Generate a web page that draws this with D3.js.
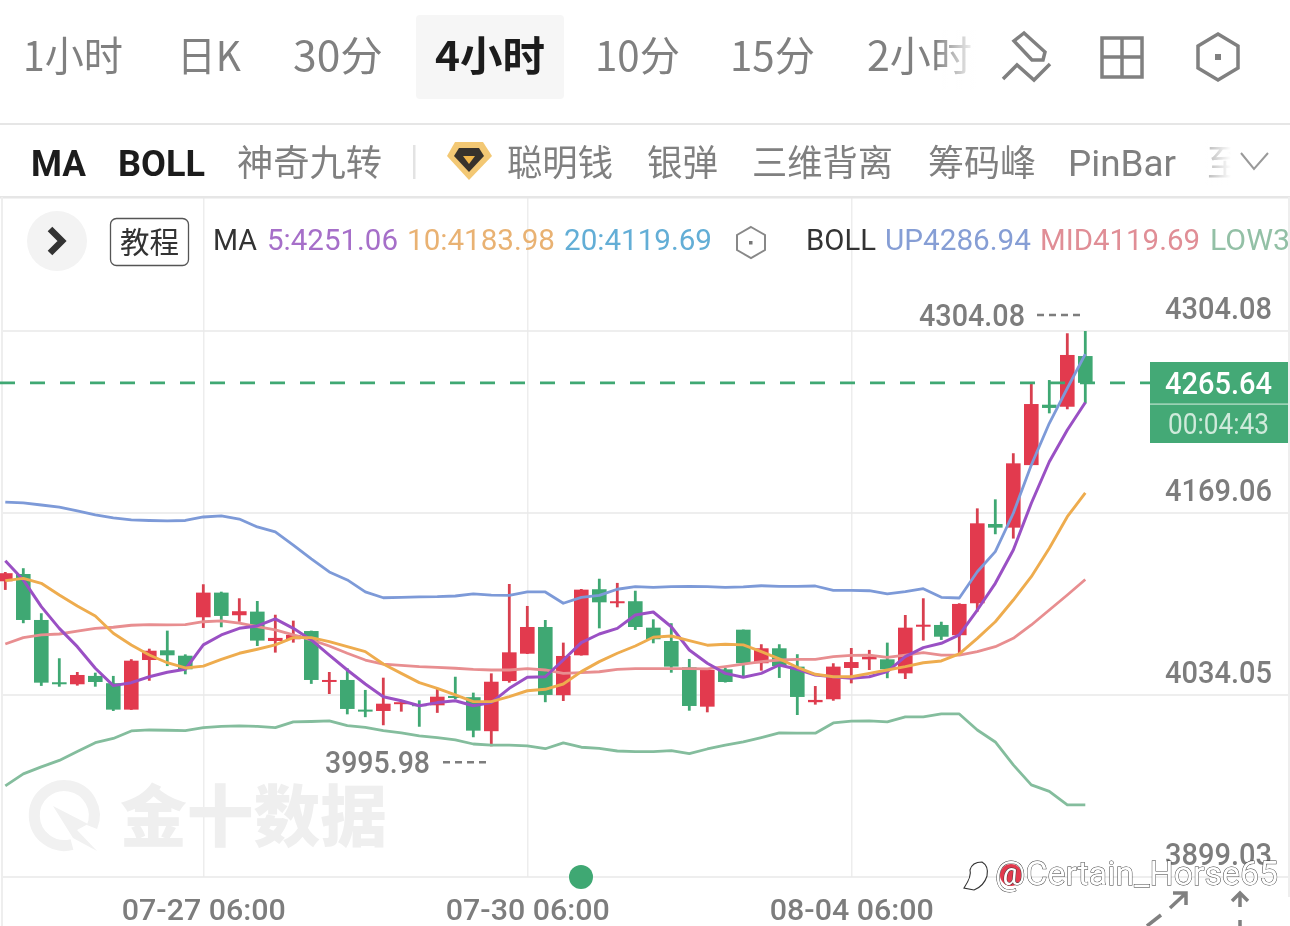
<!DOCTYPE html>
<html><head><meta charset="utf-8">
<script src="https://cdnjs.cloudflare.com/ajax/libs/d3/7.8.5/d3.min.js"></script>
<style>html,body{margin:0;padding:0;background:#fff;overflow:hidden}svg{display:block;filter:blur(.45px)}</style>
</head><body><svg id="c" width="1290" height="926"></svg>
<script>
// ---------- data ----------
const opens  = [4118.4,4123.8,4089.7,4043.5,4042.0,4048.2,4042.8,4023.2,4060.0,4067.2,4063.2,4091.7,4110.0,4093.2,4095.9,4074.1,4075.4,4081.5,4044.4,4045.2,4023.2,4022.2,4027.9,4027.2,4026.4,4033.3,4032.4,4007.2,4044.4,4064.7,4084.5,4033.9,4063.5,4112.5,4102.8,4103.6,4084.0,4074.1,4054.6,4025.4,4053.1,4082.5,4057.6,4068.7,4055.1,4028.7,4030.9,4054.1,4060.5,4060.5,4050.1,4084.7,4086.0,4078.4,4102.1,4160.9,4158.2,4204.6,4249.4,4247.9,4285.5];
const closes = [4124.4,4089.7,4043.2,4042.0,4048.9,4043.7,4023.2,4059.5,4066.9,4063.5,4053.1,4110.0,4092.7,4096.2,4074.4,4076.4,4078.6,4045.2,4045.2,4023.7,4022.2,4027.6,4028.7,4026.1,4032.8,4032.8,4007.6,4043.9,4065.7,4084.5,4034.1,4063.0,4112.2,4102.8,4103.6,4084.5,4075.4,4055.1,4025.9,4052.6,4043.7,4057.6,4068.7,4055.5,4032.6,4030.4,4055.1,4058.5,4062.5,4053.1,4084.0,4086.2,4077.3,4101.6,4161.4,4158.2,4205.9,4249.9,4247.0,4286.3,4265.64];
const highs  = [4125.3,4128.1,4094.7,4061.3,4051.1,4050.6,4048.2,4060.6,4068.4,4081.8,4064.2,4116.2,4110.7,4105.8,4103.8,4093.6,4089.2,4081.8,4051.1,4053.9,4037.8,4046.9,4028.7,4030.1,4038.8,4047.6,4035.8,4050.1,4116.4,4100.1,4089.7,4072.9,4112.7,4120.3,4117.2,4111.4,4090.2,4087.3,4060.8,4053.9,4054.1,4082.6,4071.7,4071.7,4064.3,4040.7,4057.6,4068.9,4067.5,4072.9,4093.4,4105.8,4088.4,4102.1,4172.5,4179.2,4213.4,4264.8,4267.7,4302.4,4304.08];
const lows   = [4112.0,4087.3,4040.8,4040.2,4041.0,4040.2,4022.2,4023.0,4044.6,4055.5,4049.4,4083.8,4084.3,4088.4,4070.4,4065.5,4072.9,4042.3,4034.8,4019.7,4017.6,4011.6,4021.7,4010.5,4020.8,4030.9,4002.7,3995.98,4043.2,4064.5,4028.7,4029.6,4063.3,4083.5,4099.1,4082.3,4072.4,4050.6,4022.4,4021.2,4043.3,4047.6,4052.1,4046.7,4019.2,4026.9,4029.8,4042.7,4052.6,4046.5,4045.9,4074.4,4074.9,4065.0,4095.9,4153.3,4150.1,4204.4,4243.0,4246.0,4250.4];
const ma5    = [4133.7,4119.4,4099.6,4083.5,4069.9,4053.9,4041.0,4043.2,4047.6,4050.9,4053.1,4071.2,4078.6,4083.5,4085.3,4090.5,4083.5,4074.9,4063.7,4052.6,4042.2,4032.8,4029.8,4026.1,4028.4,4029.8,4026.1,4028.4,4039.0,4047.2,4047.6,4060.0,4072.9,4079.3,4083.5,4093.4,4095.6,4084.7,4067.4,4057.6,4050.1,4047.2,4050.1,4056.3,4053.1,4048.9,4047.6,4046.5,4047.6,4051.4,4062.5,4069.2,4072.4,4078.6,4097.1,4116.9,4141.6,4176.3,4207.1,4230.6,4251.06];
const ma10   = [4118.9,4120.6,4116.9,4108.2,4100.1,4092.7,4079.8,4071.2,4063.7,4058.0,4054.1,4055.5,4060.5,4065.0,4068.0,4071.2,4076.6,4076.6,4073.6,4069.9,4066.2,4057.0,4050.1,4043.2,4039.0,4034.1,4029.1,4029.1,4032.8,4037.2,4038.3,4042.2,4051.4,4058.8,4065.0,4070.4,4076.9,4077.8,4074.4,4071.0,4071.7,4071.2,4066.2,4060.8,4054.6,4049.4,4047.6,4047.6,4050.1,4052.6,4055.1,4058.0,4059.3,4064.5,4076.1,4088.4,4104.5,4121.8,4142.9,4166.3,4183.98];
const bollMid= [4071.9,4076.6,4078.6,4079.3,4081.5,4083.5,4084.3,4085.8,4086.2,4086.0,4086.2,4088.4,4089.0,4087.3,4084.7,4082.3,4078.6,4074.9,4070.4,4065.0,4060.0,4057.0,4056.1,4055.1,4054.6,4053.9,4053.1,4052.6,4052.6,4053.6,4052.6,4050.1,4050.6,4051.3,4053.1,4053.6,4053.6,4053.6,4053.6,4053.4,4055.1,4057.0,4058.8,4060.0,4060.5,4060.5,4062.5,4063.5,4063.7,4062.0,4063.7,4065.4,4063.7,4063.7,4066.2,4069.9,4076.1,4086.0,4097.1,4108.2,4119.69];
const bollUp = [4177.2,4176.5,4175.0,4173.5,4170.6,4167.6,4165.4,4163.9,4163.5,4163.2,4163.5,4166.1,4166.9,4164.6,4158.7,4155.0,4145.3,4135.0,4125.3,4119.4,4110.5,4106.2,4106.5,4106.8,4107.0,4107.5,4109.0,4108.2,4108.0,4110.5,4110.5,4102.1,4106.5,4108.0,4112.5,4114.4,4113.9,4114.4,4114.7,4114.4,4113.9,4114.2,4115.1,4114.7,4114.7,4114.9,4111.7,4111.7,4111.4,4109.0,4110.7,4112.9,4106.5,4106.0,4125.5,4140.4,4168.9,4204.7,4235.6,4261.6,4286.94];
const bollLow= [3966.6,3975.5,3980.7,3985.5,3992.2,3998.7,4001.8,4007.4,4008.1,4007.9,4007.6,4009.8,4010.7,4011.1,4010.7,4009.8,4014.1,4014.4,4014.8,4011.3,4010.1,4007.6,4005.9,4003.7,4002.4,4000.7,3997.7,3996.8,3996.8,3996.3,3994.2,3998.5,3995.3,3994.5,3992.5,3992.0,3992.0,3992.8,3990.5,3994.0,3996.8,3999.2,4002.4,4005.9,4005.7,4005.7,4013.3,4014.6,4014.8,4014.1,4017.8,4017.8,4020.0,4020.0,4008.1,3999.2,3982.2,3967.4,3962.6,3952.6,3952.6];
const priceTicks = [4304.08,4169.06,4034.05,3899.03];
const dateTicks  = [[11,"07-27 06:00"],[29,"07-30 06:00"],[47,"08-04 06:00"]];
const lastPrice = 4265.64, countdown = "00:04:43", maxPrice = 4304.08, minPrice = 3995.98;
const tabs = ["1小时","日K","30分","4小时","10分","15分","2小时"];
const tools = ["MA","BOLL","神奇九转","聪明钱","银弹","三维背离","筹码峰","PinBar"];

// ---------- scales ----------
const x = d3.scaleLinear().domain([0,60]).range([5.3,1085.3]);
const y = d3.scaleLinear().domain([3899.03,4304.08]).range([877,331]);
const RED="#e23a4e", GREEN="#3fa873", GREY="#808080", GRID="#e9e9e9";
const CJK='"Noto Sans CJK SC","Noto Sans",sans-serif', NUM='Roboto,"Noto Sans",sans-serif';
const svg = d3.select("#c");

function T(g,str,xx,yy,size,color,opt={}){
  const t=g.append("text").attr("x",xx).attr("y",yy).attr("font-size",size).attr("fill",color)
    .attr("font-family",opt.font||CJK).attr("font-weight",opt.w||400).attr("text-anchor",opt.a||"start").text(str);
  if(opt.len) t.attr("textLength",opt.len).attr("lengthAdjust","spacingAndGlyphs");
  if(opt.op) t.attr("opacity",opt.op);
  return t;
}

// ---------- header ----------
const defs=svg.append("defs");
const fade=defs.append("linearGradient").attr("id","fade");
fade.append("stop").attr("offset",0).attr("stop-color","#fff").attr("stop-opacity",0);
fade.append("stop").attr("offset",1).attr("stop-color","#fff").attr("stop-opacity",1);

const head=svg.append("g");
head.append("rect").attr("x",416).attr("y",15).attr("width",148).attr("height",84).attr("rx",4).attr("fill","#f6f6f6");
const tabX=[23,177,293,435,595,730,867], tabW=[100,64,90,110,85,85,105];
tabs.forEach((s,i)=>T(head,s,tabX[i],71,41,i==3?"#1c1c1c":GREY,{w:i==3?700:400,len:tabW[i]}));
head.append("rect").attr("x",935).attr("y",30).attr("width",42).attr("height",60).attr("fill","url(#fade)");
const ic=head.append("g").attr("fill","none").attr("stroke",GREY).attr("stroke-width",3.5);
ic.append("path").attr("d","M1024 33 L1014 41 L1032 60 L1043 60 L1045 52 Z");
ic.append("path").attr("d","M1003 79 L1017 65 L1034 80 L1050 64");
ic.append("rect").attr("x",1102).attr("y",38).attr("width",40).attr("height",39);
ic.append("path").attr("d","M1122 38 V77 M1102 57 H1142");
ic.append("path").attr("d","M1218 34 L1238 46 V68 L1218 80 L1198 68 V46 Z");
head.append("rect").attr("x",1215).attr("y",54).attr("width",6).attr("height",6).attr("fill",GREY);

head.append("rect").attr("x",0).attr("y",123).attr("width",1290).attr("height",2).attr("fill","#e6e6e6");
const toolX=[31,118,237,507,647,752,928,1068], toolW=[55,87,145,106,71,141,108,108];
tools.forEach((s,i)=>T(head,s,toolX[i],176,36,i<2?"#1c1c1c":GREY,{w:i<2?700:400,font:i<2||i==7?NUM:CJK,len:toolW[i]}));
T(head,"至",1207,176,36,"#b5b5b5");
head.append("rect").attr("x",1205).attr("y",140).attr("width",26).attr("height",46).attr("fill","url(#fade)");
head.append("rect").attr("x",1231).attr("y",140).attr("width",12).attr("height",46).attr("fill","#fff");
head.append("path").attr("d","M1241 153 L1254 169 L1268 153").attr("fill","none").attr("stroke","#9a9a9a").attr("stroke-width",2);
head.append("rect").attr("x",413).attr("y",145).attr("width",2.5).attr("height",34).attr("fill","#e3e3e3");
head.append("path").attr("d","M455 142 H483 L492 156 L469 180 L447 156 Z").attr("fill","#f3c874");
head.append("path").attr("d","M459 148 H479 L484 156 L469 172 L454 156 Z").attr("fill","#37322c");
head.append("path").attr("d","M463 156 L469 164 L475 156 Z").attr("fill","#f1b64a");
head.append("rect").attr("x",0).attr("y",196).attr("width",1290).attr("height",2.5).attr("fill","#e6e6e6");
head.append("rect").attr("x",1).attr("y",197).attr("width",2).attr("height",729).attr("fill","#eeeeee");
head.append("rect").attr("x",1288).attr("y",197).attr("width",2).attr("height",700).attr("fill","#eeeeee");

// ---------- grid ----------
const grid=svg.append("g");
grid.selectAll("line.h").data(priceTicks).join("line").attr("class","h")
  .attr("x1",3).attr("x2",1288).attr("y1",d=>y(d)).attr("y2",d=>y(d)).attr("stroke",GRID).attr("stroke-width",1.5);
grid.selectAll("line.v").data(dateTicks).join("line").attr("class","v")
  .attr("x1",d=>x(d[0])+.5).attr("x2",d=>x(d[0])+.5).attr("y1",198).attr("y2",877).attr("stroke",GRID).attr("stroke-width",1.2);

// ---------- watermark ----------
const wm=svg.append("g");
wm.append("path").attr("d","M92 827 A30 30 0 1 0 72 844.5").attr("fill","none").attr("stroke","#f1f1f1").attr("stroke-width",11);
wm.append("path").attr("d","M53 806 L88 824 L77 830 L97 851 L73 838 Z").attr("fill","#f1f1f1");
T(wm,"金十数据",120,841,67,"#efefef",{w:900,len:267});

// ---------- legend ----------
const leg=svg.append("g");
leg.append("circle").attr("cx",57).attr("cy",241).attr("r",30).attr("fill","#f3f3f3");
leg.append("path").attr("d","M50 229 L62 241 L50 253").attr("fill","none").attr("stroke","#333").attr("stroke-width",6.5);
leg.append("rect").attr("x",110.5).attr("y",218.5).attr("width",78).attr("height",47).attr("rx",6).attr("fill","#fff").attr("stroke","#555").attr("stroke-width",1.3);
T(leg,"教程",120,253,30,"#333",{len:59});
const LS=29.5;
T(leg,"MA",213,250,LS,"#333",{font:NUM,len:44});
T(leg,"5:4251.06",267,250,LS,"#a66fc9",{font:NUM,len:131});
T(leg,"10:4183.98",407,250,LS,"#e9b273",{font:NUM,len:148});
T(leg,"20:4119.69",564,250,LS,"#63aed6",{font:NUM,len:148});
leg.append("path").attr("d","M751 227 L765 235 V250 L751 258 L737 250 V235 Z").attr("fill","none").attr("stroke","#888").attr("stroke-width",2);
leg.append("rect").attr("x",749).attr("y",241).attr("width",3.5).attr("height",3.5).attr("fill","#777");
T(leg,"BOLL",806,250,LS,"#333",{font:NUM,len:70});
T(leg,"UP4286.94",885,250,LS,"#869ed5",{font:NUM,len:146});
T(leg,"MID4119.69",1040,250,LS,"#e08e96",{font:NUM,len:160});
T(leg,"LOW3",1210,250,LS,"#93c0a6",{font:NUM,len:80});

// ---------- candles ----------
const idx=d3.range(opens.length);
const cg=svg.append("g");
cg.selectAll("line").data(idx).join("line")
  .attr("x1",i=>x(i)).attr("x2",i=>x(i)).attr("y1",i=>y(highs[i])).attr("y2",i=>y(lows[i]))
  .attr("stroke",i=>closes[i]>=opens[i]?"#d8404f":GREEN).attr("stroke-width",2.8);
cg.selectAll("rect").data(idx).join("rect")
  .attr("x",i=>x(i)-7.3).attr("width",14.6)
  .attr("y",i=>y(Math.max(opens[i],closes[i])))
  .attr("height",i=>Math.max(2,Math.abs(y(opens[i])-y(closes[i]))))
  .attr("fill",i=>closes[i]>=opens[i]?RED:GREEN);

// ---------- last price dashed line ----------
svg.append("line").attr("x1",0).attr("x2",1150).attr("y1",y(lastPrice)).attr("y2",y(lastPrice))
  .attr("stroke",GREEN).attr("stroke-width",2.8).attr("stroke-dasharray","15 15");

// ---------- lines ----------
const line=d3.line().x((d,i)=>x(i)).y(d=>y(d));
[[bollUp,"#7d9ad8",2.8],[bollLow,"#84bd9d",2.8],[bollMid,"#e88e90",2.8],[ma5,"#9a50c4",3],[ma10,"#eeac4e",2.9]]
 .forEach(([d,c,w])=>svg.append("path").datum(d).attr("d",line).attr("fill","none").attr("stroke",c).attr("stroke-width",w).attr("stroke-linejoin","round"));

// ---------- axis labels ----------
const ax=svg.append("g");
priceTicks.forEach(p=>T(ax,p.toFixed(2),1272,y(p)-12,31.5,"#7d7d7d",{font:NUM,a:"end",len:107,w:500}));
dateTicks.forEach(d=>T(ax,d[1],x(d[0])+.5,919.5,30,"#7d7d7d",{font:NUM,a:"middle",len:164,w:500}));
// high / low markers
T(ax,maxPrice.toFixed(2),919,y(maxPrice)-5,31.5,"#7d7d7d",{font:NUM,len:106,w:500});
ax.append("line").attr("x1",1037).attr("x2",1081).attr("y1",y(maxPrice)-16).attr("y2",y(maxPrice)-16).attr("stroke","#7d7d7d").attr("stroke-width",2.4).attr("stroke-dasharray","7 5");
T(ax,minPrice.toFixed(2),325,y(minPrice)+27,31.5,"#7d7d7d",{font:NUM,len:105,w:500});
ax.append("line").attr("x1",443).attr("x2",487).attr("y1",y(minPrice)+16).attr("y2",y(minPrice)+16).attr("stroke","#7d7d7d").attr("stroke-width",2.4).attr("stroke-dasharray","7 5");

// ---------- price tag ----------
const tag=svg.append("g");
tag.append("rect").attr("x",1150).attr("y",362).attr("width",138).attr("height",81).attr("fill","#44a976");
tag.append("rect").attr("x",1150).attr("y",403.5).attr("width",138).attr("height",1.2).attr("fill","#bfe3cf");
T(tag,lastPrice.toFixed(2),1272,394,31.5,"#fff",{font:NUM,a:"end",len:107,w:500});
T(tag,countdown,1269,434,30,"#cfeadb",{font:NUM,a:"end",len:101});
svg.append("ellipse").attr("cx",581).attr("cy",877).attr("rx",12).attr("ry",12).attr("fill","#3fa873");

// ---------- bottom right decorations ----------
const br=svg.append("g").attr("fill","none").attr("stroke",GREY).attr("stroke-width",3.5);
br.append("path").attr("d","M1170 908 L1185 894 M1173 893 H1186 V905");
br.append("path").attr("d","M1161 915 L1147 926");
br.append("path").attr("d","M1240 893 V907 M1232 901 L1240 893 L1248 901 M1240 920 V926");
// repost credit
const cr=svg.append("g");
cr.append("circle").attr("cx",1011).attr("cy",875).attr("r",11).attr("fill",RED);
cr.append("path").attr("d","M964 888 Q972 876 970 870 Q972 862 982 862 Q989 866 987 876 Q984 886 974 890 Z").attr("fill","#fff").attr("stroke","#333").attr("stroke-width",1.1);
T(cr,"@Certain_Horse65",995,885,33,"#fff",{font:NUM,len:283}).attr("stroke","#333").attr("stroke-width",.9).attr("paint-order","stroke");
</script></body></html>
